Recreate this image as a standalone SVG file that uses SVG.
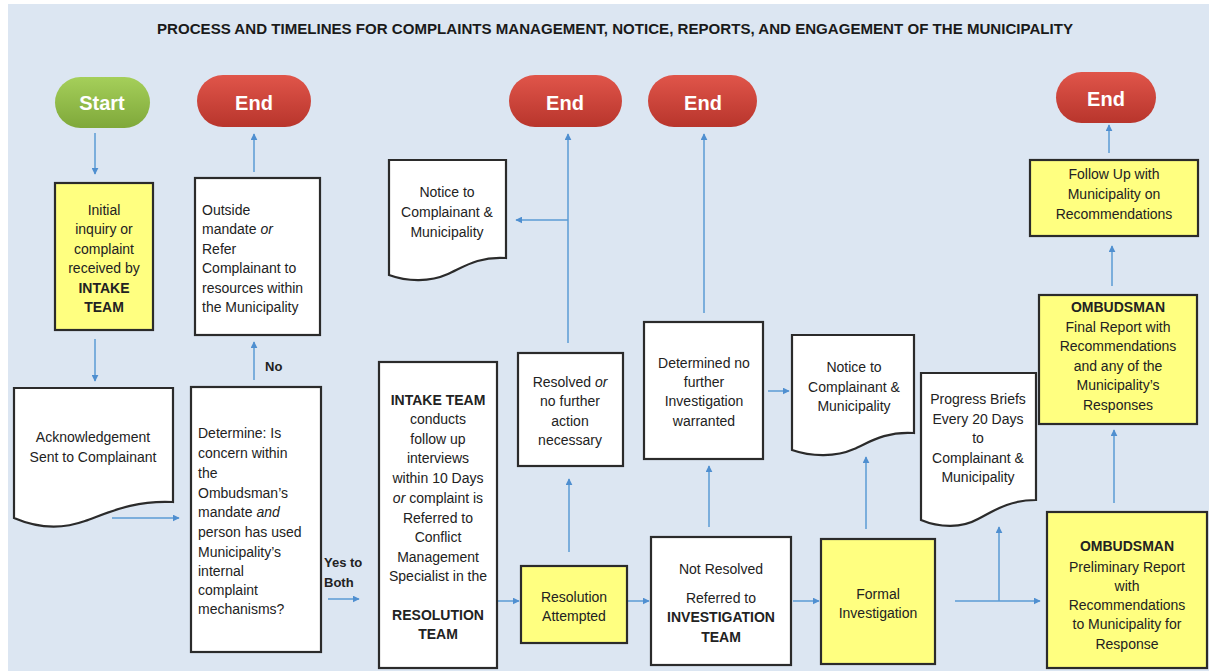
<svg xmlns="http://www.w3.org/2000/svg" width="1209" height="671" viewBox="0 0 1209 671">
<defs>
<linearGradient id="gGreen" x1="0" y1="0" x2="0" y2="1"><stop offset="0" stop-color="#a5cf5a"/><stop offset="1" stop-color="#7fa83a"/></linearGradient>
<linearGradient id="gRed" x1="0" y1="0" x2="0" y2="1"><stop offset="0" stop-color="#e0554a"/><stop offset="1" stop-color="#b8352c"/></linearGradient>
<marker id="ah" viewBox="0 0 10 10" refX="9" refY="5" markerWidth="7" markerHeight="7" markerUnits="userSpaceOnUse" orient="auto"><path d="M0,0 L10,5 L0,10 Z" fill="#4f8fd0"/></marker>
<style>
.bg{fill:#dce6f2}
.box{stroke:#2b2b2b;stroke-width:2.2}
.w{fill:#ffffff}
.y{fill:#ffff80}
.t{font-family:"Liberation Sans",Arial,sans-serif;font-size:14px;fill:#222}
.ttl{font-family:"Liberation Sans Narrow","Liberation Sans",Arial,sans-serif;font-size:15px;font-weight:bold;fill:#1a1a1a}
.c{text-anchor:middle}
.b{font-weight:bold}
.pill{font-family:"Liberation Sans",Arial,sans-serif;font-size:20px;font-weight:bold;fill:#ffffff;text-anchor:middle}
.ln{fill:none;stroke:#5b9bd5;stroke-width:1.5}
.ar{marker-end:url(#ah)}
</style>
</defs>
<rect class="bg" x="8" y="4" width="1201" height="667"/>
<text x="157" y="34" class="ttl" textLength="916" lengthAdjust="spacingAndGlyphs">PROCESS AND TIMELINES FOR COMPLAINTS MANAGEMENT, NOTICE, REPORTS, AND ENGAGEMENT OF THE MUNICIPALITY</text>

<g id="connectors">
<line class="ln ar" x1="95" y1="133" x2="95" y2="174"/>
<line class="ln ar" x1="95" y1="339" x2="95" y2="381"/>
<line class="ln ar" x1="112" y1="518" x2="179" y2="518"/>
<line class="ln ar" x1="254" y1="380" x2="254" y2="342"/>
<line class="ln ar" x1="254" y1="172" x2="254" y2="134"/>
<line class="ln ar" x1="328" y1="599" x2="359" y2="599"/>
<line class="ln ar" x1="498" y1="601" x2="519" y2="601"/>
<line class="ln ar" x1="569" y1="552" x2="569" y2="479"/>
<line class="ln ar" x1="568" y1="343" x2="568" y2="134"/>
<line class="ln ar" x1="568" y1="220" x2="516" y2="220"/>
<line class="ln ar" x1="627" y1="601" x2="649" y2="601"/>
<line class="ln ar" x1="709" y1="527" x2="709" y2="466"/>
<line class="ln ar" x1="704" y1="313" x2="704" y2="134"/>
<line class="ln ar" x1="768" y1="391" x2="789" y2="391"/>
<line class="ln ar" x1="793" y1="601" x2="819" y2="601"/>
<line class="ln ar" x1="866" y1="529" x2="866" y2="457"/>
<line class="ln ar" x1="955" y1="601" x2="1040" y2="601"/>
<line class="ln ar" x1="999" y1="601" x2="999" y2="527"/>
<line class="ln ar" x1="1114" y1="503" x2="1114" y2="430"/>
<line class="ln ar" x1="1112" y1="286" x2="1112" y2="246"/>
<line class="ln ar" x1="1109" y1="153" x2="1109" y2="125"/>
</g>

<g id="start">
<rect x="55" y="77" width="95" height="51" rx="25.5" fill="url(#gGreen)"/>
<text x="102" y="110" class="pill">Start</text>
</g>
<g id="end1">
<rect x="197" y="75" width="114" height="52" rx="26" fill="url(#gRed)"/>
<text x="254" y="110" class="pill">End</text>
</g>
<g id="end2">
<rect x="509" y="75" width="113" height="52" rx="26" fill="url(#gRed)"/>
<text x="565" y="110" class="pill">End</text>
</g>
<g id="end3">
<rect x="648" y="75" width="109" height="52" rx="26" fill="url(#gRed)"/>
<text x="703" y="110" class="pill">End</text>
</g>
<g id="end4">
<rect x="1056" y="72" width="100" height="51" rx="25.5" fill="url(#gRed)"/>
<text x="1106" y="106" class="pill">End</text>
</g>

<g id="intake">
<rect class="box y" x="55" y="183" width="98" height="147"/>
<text class="t c" x="104"><tspan x="104" y="215">Initial</tspan><tspan x="104" y="234">inquiry or</tspan><tspan x="104" y="254">complaint</tspan><tspan x="104" y="273">received by</tspan><tspan x="104" y="293" class="b">INTAKE</tspan><tspan x="104" y="312" class="b">TEAM</tspan></text>
</g>

<g id="outside">
<rect class="box w" x="195" y="178" width="125" height="157"/>
<text class="t"><tspan x="202" y="215">Outside</tspan><tspan x="202" y="234">mandate <tspan font-style="italic">or</tspan></tspan><tspan x="202" y="254">Refer</tspan><tspan x="202" y="273">Complainant to</tspan><tspan x="202" y="293">resources within</tspan><tspan x="202" y="312">the Municipality</tspan></text>
</g>

<g id="ack">
<path class="box w" d="M14,388 H173 V502 C135,500 110,512 85,521 C60,530 35,527 14,518 Z"/>
<text class="t c"><tspan x="93" y="442">Acknowledgement</tspan><tspan x="93" y="462">Sent to Complainant</tspan></text>
</g>

<g id="determine">
<rect class="box w" x="191" y="387" width="130" height="265"/>
<text class="t"><tspan x="198" y="438">Determine: Is</tspan><tspan x="198" y="458">concern within</tspan><tspan x="198" y="478">the</tspan><tspan x="198" y="498">Ombudsman’s</tspan><tspan x="198" y="517">mandate <tspan font-style="italic">and</tspan></tspan><tspan x="198" y="537">person has used</tspan><tspan x="198" y="557">Municipality’s</tspan><tspan x="198" y="576">internal</tspan><tspan x="198" y="595">complaint</tspan><tspan x="198" y="614">mechanisms?</tspan></text>
</g>

<g id="label-no"><text class="t b" x="265" y="371" style="font-size:13px">No</text></g>
<g id="label-yes"><text class="t b" style="font-size:13px"><tspan x="324" y="567">Yes to</tspan><tspan x="324" y="587">Both</tspan></text></g>

<g id="intake-team">
<rect class="box w" x="379" y="362" width="118" height="306"/>
<text class="t c"><tspan x="438" y="405" class="b">INTAKE TEAM</tspan><tspan x="438" y="424">conducts</tspan><tspan x="438" y="444">follow up</tspan><tspan x="438" y="463">interviews</tspan><tspan x="438" y="483">within 10 Days</tspan><tspan x="438" y="503"><tspan font-style="italic">or</tspan> complaint is</tspan><tspan x="438" y="523">Referred  to</tspan><tspan x="438" y="542">Conflict</tspan><tspan x="438" y="562">Management</tspan><tspan x="438" y="581">Specialist in the</tspan><tspan x="438" y="620" class="b">RESOLUTION</tspan><tspan x="438" y="639" class="b">TEAM</tspan></text>
</g>

<g id="notice1">
<path class="box w" d="M389,160 H506 V258 C478,256 462,268 448,274 C430,282 408,282 389,275 Z"/>
<text class="t c"><tspan x="447" y="197">Notice to</tspan><tspan x="447" y="217">Complainant &amp;</tspan><tspan x="447" y="237">Municipality</tspan></text>
</g>

<g id="resolved">
<rect class="box w" x="518" y="353" width="105" height="113"/>
<text class="t c"><tspan x="570" y="387">Resolved <tspan font-style="italic">or</tspan></tspan><tspan x="570" y="406">no further</tspan><tspan x="570" y="426">action</tspan><tspan x="570" y="445">necessary</tspan></text>
</g>

<g id="determined">
<rect class="box w" x="644" y="322" width="119" height="137"/>
<text class="t c"><tspan x="704" y="368">Determined no</tspan><tspan x="704" y="387">further</tspan><tspan x="704" y="406">Investigation</tspan><tspan x="704" y="426">warranted</tspan></text>
</g>

<g id="resolution">
<rect class="box y" x="521" y="566" width="106" height="77"/>
<text class="t c"><tspan x="574" y="602">Resolution</tspan><tspan x="574" y="621">Attempted</tspan></text>
</g>

<g id="notresolved">
<rect class="box w" x="651" y="537" width="140" height="128"/>
<text class="t c"><tspan x="721" y="574">Not Resolved</tspan><tspan x="721" y="603">Referred to</tspan><tspan x="721" y="622" class="b">INVESTIGATION</tspan><tspan x="721" y="642" class="b">TEAM</tspan></text>
</g>

<g id="notice2">
<path class="box w" d="M792,335 H914 V433 C885,431 868,443 854,449 C836,457 812,457 792,450 Z"/>
<text class="t c"><tspan x="854" y="372">Notice to</tspan><tspan x="854" y="392">Complainant &amp;</tspan><tspan x="854" y="411">Municipality</tspan></text>
</g>

<g id="progress">
<path class="box w" d="M921,373 H1036 V500 C1008,500 992,512 978,519 C962,528 940,528 921,520 Z"/>
<text class="t c"><tspan x="978" y="404">Progress Briefs</tspan><tspan x="978" y="424">Every 20 Days</tspan><tspan x="978" y="443">to</tspan><tspan x="978" y="463">Complainant &amp;</tspan><tspan x="978" y="482">Municipality</tspan></text>
</g>

<g id="formal">
<rect class="box y" x="821" y="539" width="114" height="125"/>
<text class="t c"><tspan x="878" y="599">Formal</tspan><tspan x="878" y="618">Investigation</tspan></text>
</g>

<g id="preliminary">
<rect class="box y" x="1047" y="512" width="160" height="156"/>
<text class="t c"><tspan x="1127" y="551" class="b">OMBUDSMAN</tspan><tspan x="1127" y="572">Preliminary Report</tspan><tspan x="1127" y="591">with</tspan><tspan x="1127" y="610">Recommendations</tspan><tspan x="1127" y="629">to Municipality for</tspan><tspan x="1127" y="649">Response</tspan></text>
</g>

<g id="final">
<rect class="box y" x="1039" y="295" width="158" height="129"/>
<text class="t c"><tspan x="1118" y="312" class="b">OMBUDSMAN</tspan><tspan x="1118" y="332">Final Report with</tspan><tspan x="1118" y="351">Recommendations</tspan><tspan x="1118" y="371">and any of the</tspan><tspan x="1118" y="390">Municipality’s</tspan><tspan x="1118" y="410">Responses</tspan></text>
</g>

<g id="followup">
<rect class="box y" x="1030" y="160" width="168" height="76"/>
<text class="t c"><tspan x="1114" y="179">Follow Up with</tspan><tspan x="1114" y="199">Municipality on</tspan><tspan x="1114" y="219">Recommendations</tspan></text>
</g>
</svg>
